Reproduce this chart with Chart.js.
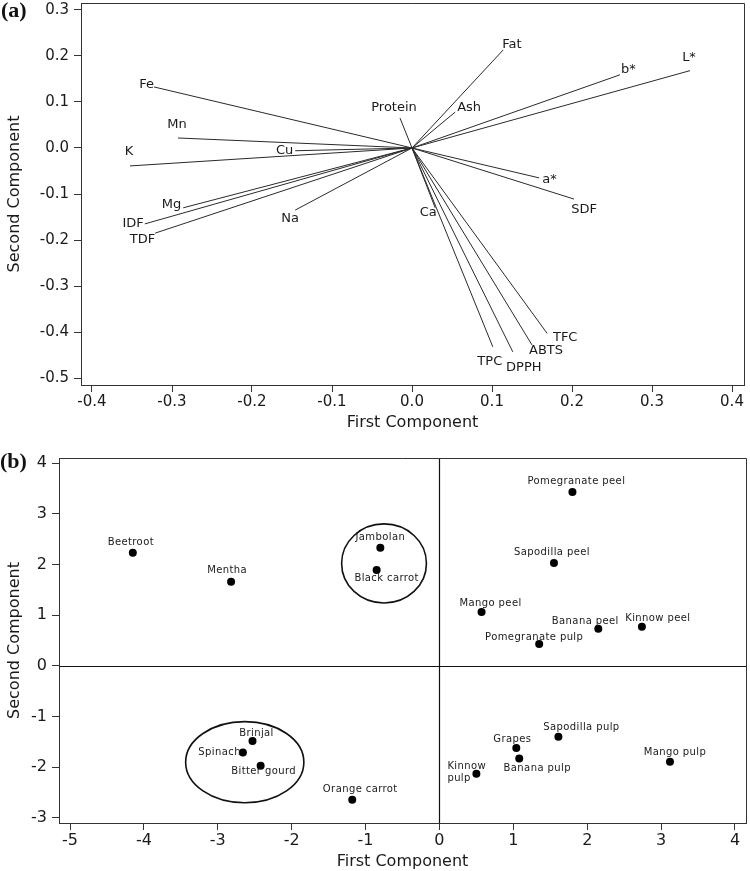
<!DOCTYPE html>
<html><head><meta charset="utf-8">
<script src="https://cdn.jsdelivr.net/npm/chart.js@4.4.0/dist/chart.umd.min.js"></script>
<style>
html,body{margin:0;padding:0;background:#fff;}
#wrap{position:relative;width:750px;height:871px;overflow:hidden;}
#ca{position:absolute;left:0;top:0;}
#cb{position:absolute;left:0;top:430px;}
.plab{position:absolute;font:bold 22px "Liberation Serif","Times New Roman",serif;line-height:22px;color:#111;}
</style></head>
<body><div id="wrap">
<canvas id="ca" width="750" height="430"></canvas>
<canvas id="cb" width="750" height="441"></canvas>
<div class="plab" style="left:1px;top:-1px">(a)</div>
<div class="plab" style="left:0px;top:450px">(b)</div>
</div>
<script>
// ---------- Panel (a): loading plot ----------
const loadingVars = ['Fe','Mn','K','Cu','Mg','IDF','TDF','Na','Protein','Ash','Fat','b*','L*','a*','SDF','Ca','TPC','DPPH','ABTS','TFC'];
const loadingPC1  = [-0.3225,-0.2925,-0.3525,-0.146,-0.286,-0.334,-0.321,-0.146,-0.015,0.054,0.114,0.260,0.3475,0.159,0.2025,0.029,0.101,0.126,0.150,0.169];
const loadingPC2  = [0.1326,0.0217,-0.039,-0.006,-0.130,-0.165,-0.185,-0.135,0.065,0.078,0.213,0.159,0.168,-0.065,-0.111,-0.130,-0.432,-0.443,-0.428,-0.403];
const loadingXTicks = [-0.4,-0.3,-0.2,-0.1,0.0,0.1,0.2,0.3,0.4];
const loadingYTicks = [-0.5,-0.4,-0.3,-0.2,-0.1,0.0,0.1,0.2,0.3];

// ---------- Panel (b): score plot ----------
const sampleNames = ['Beetroot','Mentha','Jambolan','Black carrot','Pomegranate peel','Sapodilla peel','Mango peel','Banana peel','Kinnow peel','Pomegranate pulp','Sapodilla pulp','Grapes','Banana pulp','Kinnow pulp','Mango pulp','Orange carrot','Brinjal','Spinach','Bitter gourd'];
const scorePC1 = [-4.15,-2.82,-0.80,-0.85,1.80,1.55,0.57,2.15,2.74,1.35,1.61,1.04,1.08,0.50,3.12,-1.18,-2.53,-2.66,-2.42];
const scorePC2 = [2.23,1.66,2.33,1.89,3.43,2.03,1.06,0.73,0.77,0.43,-1.40,-1.62,-1.83,-2.13,-1.89,-2.64,-1.48,-1.71,-1.97];
const scoreXTicks = [-5,-4,-3,-2,-1,0,1,2,3,4];
const scoreYTicks = [-3,-2,-1,0,1,2,3,4];
// cluster circles (data units)
const clusterCenterPC1 = [-2.635,-0.75];
const clusterCenterPC2 = [-1.90,2.02];
const clusterRadiusPC1 = [0.80,0.574];
const clusterRadiusPC2 = [0.80,0.78];

// ---------- label placement (pixels, styling only) ----------
const loadingLabelPlace = {
  'Fe':{dx:0,dy:-2,a:'right'}, 'Mn':{dx:-1,dy:-13,a:'center'}, 'K':{dx:-1,dy:-14,a:'center'},
  'Cu':{dx:-2,dy:0,a:'right'}, 'Mg':{dx:-2,dy:-3,a:'right'}, 'IDF':{dx:-1,dy:0,a:'right'},
  'TDF':{dx:0,dy:7,a:'right'}, 'Na':{dx:-5,dy:9,a:'center'}, 'Protein':{dx:-6,dy:-10,a:'center'},
  'Ash':{dx:2,dy:-4,a:'left'}, 'Fat':{dx:-1,dy:-5,a:'left'}, 'b*':{dx:1,dy:-5,a:'left'},
  'L*':{dx:-1,dy:-13,a:'center'}, 'a*':{dx:3,dy:2,a:'left'}, 'SDF':{dx:10,dy:11,a:'center'},
  'Ca':{dx:-7,dy:5,a:'center'}, 'TPC':{dx:-3,dy:15,a:'center'}, 'DPPH':{dx:11,dy:16,a:'center'},
  'ABTS':{dx:14,dy:6,a:'center'}, 'TFC':{dx:18,dy:4,a:'center'}
};
const sampleLabelPlace = {
  'Beetroot':{dx:-2,dy:-10,a:'center'}, 'Mentha':{dx:-4,dy:-11,a:'center'},
  'Jambolan':{dx:0,dy:-10,a:'center'}, 'Black carrot':{dx:10,dy:8,a:'center'},
  'Pomegranate peel':{dx:4,dy:-11,a:'center'}, 'Sapodilla peel':{dx:-2,dy:-11,a:'center'},
  'Mango peel':{dx:9,dy:-9,a:'center'}, 'Banana peel':{dx:-13,dy:-7,a:'center'},
  'Kinnow peel':{dx:16,dy:-8,a:'center'}, 'Pomegranate pulp':{dx:-5,dy:-7,a:'center'},
  'Sapodilla pulp':{dx:23,dy:-9,a:'center'}, 'Grapes':{dx:-4,dy:-9,a:'center'},
  'Banana pulp':{dx:18,dy:10,a:'center'}, 'Kinnow pulp':{dx:-29,dy:-7,a:'left',lines:['Kinnow','pulp'],lh:12},
  'Mango pulp':{dx:5,dy:-9,a:'center'}, 'Orange carrot':{dx:8,dy:-10,a:'center'},
  'Brinjal':{dx:4,dy:-7,a:'center'}, 'Spinach':{dx:-2,dy:0,a:'right'},
  'Bitter gourd':{dx:3,dy:6,a:'center'}
};

const AXC = '#333';
const TXT = '#1a1a1a';
const FONT = '"DejaVu Sans", Verdana, sans-serif';

const framePlugin = {
  id:'frame',
  afterDraw(chart){
    const {ctx, chartArea:ca} = chart;
    ctx.save();
    ctx.strokeStyle = AXC; ctx.lineWidth = 1;
    ctx.beginPath();
    ctx.moveTo(ca.left, Math.round(ca.top)+0.5);
    ctx.lineTo(Math.round(ca.right)+0.5, Math.round(ca.top)+0.5);
    ctx.lineTo(Math.round(ca.right)+0.5, ca.bottom);
    ctx.stroke();
    ctx.restore();
  }
};

function axisCfg(ticksArr, fmt, tickSize, titleText, titlePad, fixedSize, isX){
  return {
    type:'linear',
    afterBuildTicks: ax => { ax.ticks = ticksArr.map(v => ({value:v})); },
    afterFit: ax => {
      if (isX) ax.height = fixedSize; else ax.width = fixedSize;
      ax.paddingTop = 0; ax.paddingBottom = 0; ax.paddingLeft = 0; ax.paddingRight = 0;
    },
    grid:{display:true, drawOnChartArea:false, drawTicks:true, tickLength:7, color:AXC, lineWidth:1},
    border:{display:true, color:AXC, width:1},
    ticks:{autoSkip:false, maxRotation:0, minRotation:0, padding: isX?1:5, color:TXT,
      font:{family:FONT, size:tickSize}, callback: fmt},
    title:{display:true, text:titleText, color:TXT, font:{family:FONT, size:16, lineHeight:1}, padding:titlePad}
  };
}

// ---------- chart (a) ----------
const loadingDatasets = loadingVars.map((name,i) => ({
  label:name,
  data:[{x:0,y:0},{x:loadingPC1[i], y:loadingPC2[i]}],
  showLine:true, borderColor:'#2a2a2a', borderWidth:1, pointRadius:0, fill:false
}));

const loadingLabelPlugin = {
  id:'loadLabels',
  afterDatasetsDraw(chart){
    const {ctx, scales:{x,y}} = chart;
    ctx.save();
    ctx.fillStyle = TXT; ctx.font = '13px ' + FONT; ctx.textBaseline = 'middle';
    loadingVars.forEach((name,i) => {
      const p = loadingLabelPlace[name];
      const px = x.getPixelForValue(loadingPC1[i]) + p.dx;
      const py = y.getPixelForValue(loadingPC2[i]) + p.dy;
      ctx.textAlign = p.a;
      ctx.fillText(name, px, py);
    });
    ctx.restore();
  }
};

new Chart(document.getElementById('ca'), {
  type:'scatter',
  data:{datasets:loadingDatasets},
  options:{
    responsive:false, animation:false, devicePixelRatio:1,
    layout:{padding:{left:0, top:3, right:6, bottom:0}},
    plugins:{legend:{display:false}, tooltip:{enabled:false}},
    scales:{
      x: Object.assign(axisCfg(loadingXTicks, v => Number(v).toFixed(1), 15, 'First Component', {top:0,bottom:-1}, 45, true), {min:-0.41375, max:0.415}),
      y: Object.assign(axisCfg(loadingYTicks, v => Number(v).toFixed(1), 15, 'Second Component', {top:7,bottom:0}, 81, false), {min:-0.515, max:0.315})
    }
  },
  plugins:[framePlugin, loadingLabelPlugin]
});

// ---------- chart (b) ----------
const scorePlugin = {
  id:'scoreExtras',
  beforeDatasetsDraw(chart){
    const {ctx, chartArea:ca, scales:{x,y}} = chart;
    ctx.save();
    ctx.strokeStyle = '#111'; ctx.lineWidth = 1.2;
    const x0 = Math.round(x.getPixelForValue(0))+0.5;
    const y0 = Math.round(y.getPixelForValue(0))+0.5;
    ctx.beginPath();
    ctx.moveTo(x0, ca.top); ctx.lineTo(x0, ca.bottom);
    ctx.moveTo(ca.left, y0); ctx.lineTo(ca.right, y0);
    ctx.stroke();
    ctx.lineWidth = 1.6;
    clusterCenterPC1.forEach((cx,i) => {
      const px = x.getPixelForValue(cx), py = y.getPixelForValue(clusterCenterPC2[i]);
      const rx = Math.abs(x.getPixelForValue(cx + clusterRadiusPC1[i]) - px);
      const ry = Math.abs(y.getPixelForValue(clusterCenterPC2[i] + clusterRadiusPC2[i]) - py);
      ctx.beginPath(); ctx.ellipse(px, py, rx, ry, 0, 0, Math.PI*2); ctx.stroke();
    });
    ctx.restore();
  },
  afterDatasetsDraw(chart){
    const {ctx, scales:{x,y}} = chart;
    ctx.save();
    ctx.fillStyle = TXT; ctx.font = '10px ' + FONT; ctx.textBaseline = 'middle';
    try { ctx.letterSpacing = '0.4px'; } catch(e){}
    sampleNames.forEach((name,i) => {
      const p = sampleLabelPlace[name];
      const px = x.getPixelForValue(scorePC1[i]) + p.dx;
      const py = y.getPixelForValue(scorePC2[i]) + p.dy;
      ctx.textAlign = p.a;
      if (p.lines) p.lines.forEach((t,k) => ctx.fillText(t, px, py + k*p.lh));
      else ctx.fillText(name, px, py);
    });
    ctx.restore();
  }
};

new Chart(document.getElementById('cb'), {
  type:'scatter',
  data:{datasets:[{
    label:'Samples',
    data: sampleNames.map((n,i) => ({x:scorePC1[i], y:scorePC2[i]})),
    pointRadius:4, pointBackgroundColor:'#000', pointBorderColor:'#000', pointBorderWidth:0
  }]},
  options:{
    responsive:false, animation:false, devicePixelRatio:1,
    layout:{padding:{left:0, top:28, right:3, bottom:0}},
    plugins:{legend:{display:false}, tooltip:{enabled:false}},
    scales:{
      x: Object.assign(axisCfg(scoreXTicks, v => String(v), 16, 'First Component', {top:0,bottom:1}, 48, true), {min:-5.149, max:4.149}),
      y: Object.assign(axisCfg(scoreYTicks, v => String(v), 16, 'Second Component', {top:7,bottom:0}, 59, false), {min:-3.10, max:4.10})
    }
  },
  plugins:[framePlugin, scorePlugin]
});
</script>
</body></html>
